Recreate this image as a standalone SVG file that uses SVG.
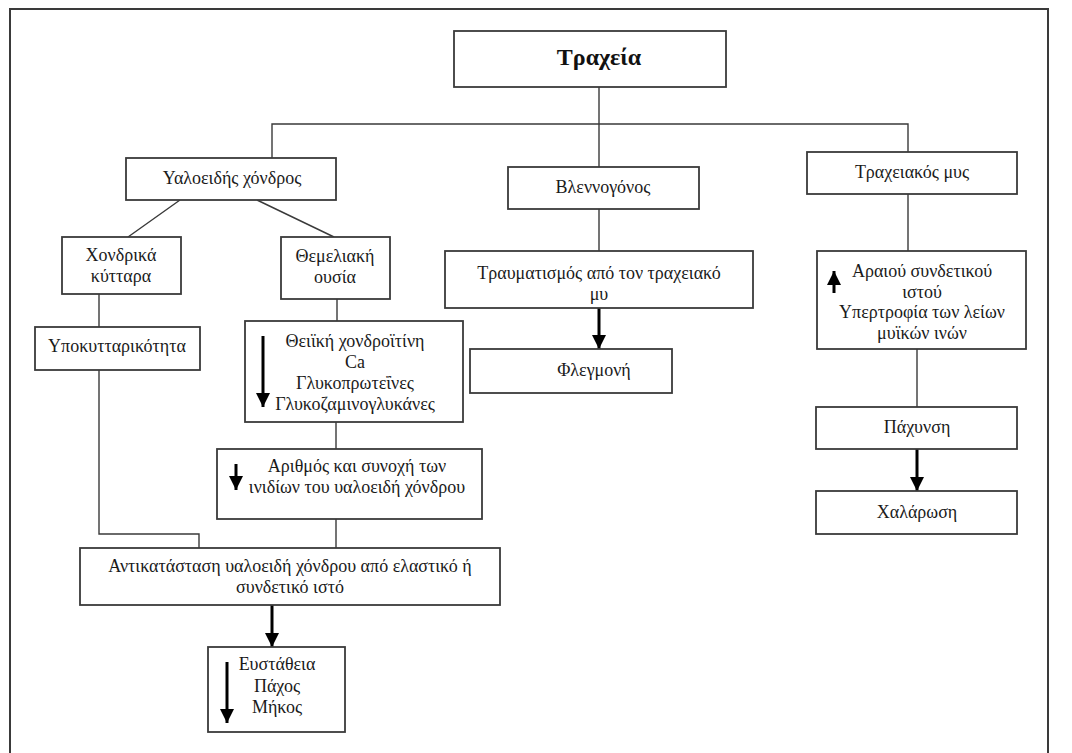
<svg xmlns="http://www.w3.org/2000/svg" width="1072" height="753" viewBox="0 0 1072 753">
<defs>
<style>
.b{fill:#fff;stroke:#3a3a3a;stroke-width:1.8}
.t{font-family:"Liberation Serif","Times New Roman","DejaVu Serif",serif;font-size:18px;fill:#1a1a1a;text-anchor:middle}
.h{font-family:"Liberation Serif","Times New Roman","DejaVu Serif",serif;font-size:24px;font-weight:bold;fill:#111;text-anchor:middle}
.l{fill:none;stroke:#3a3a3a;stroke-width:1.4}
.a{fill:none;stroke:#000;stroke-width:3}
</style>
<marker id="ah" viewBox="0 0 10 10" refX="10" refY="5" markerWidth="14" markerHeight="14" markerUnits="userSpaceOnUse" orient="auto"><path d="M0,0L10,5L0,10z" fill="#000"/></marker>
</defs>
<rect x="10" y="9" width="1038" height="760" fill="#fff" stroke="#3a3a3a" stroke-width="2"/>
<g id="connectors">
<path class="l" d="M599,87V167M272,158V124H908V152"/>
<path class="l" d="M180,200L128,237M257,200L334,237"/>
<path class="l" d="M99,294V327M337,299V321M336,422V449M336,519V548"/>
<path class="l" d="M99,370V534H199V548"/>
<path class="l" d="M599,209V251M908,194V251M917,349V407"/>
<line class="a" x1="599" y1="308" x2="599" y2="349" marker-end="url(#ah)"/>
<line class="a" x1="272" y1="605" x2="272" y2="647" marker-end="url(#ah)"/>
<line class="a" x1="917" y1="449" x2="917" y2="491" marker-end="url(#ah)"/>
</g>
<g id="n-trachea"><rect class="b" x="454" y="31" width="272" height="56"/><text class="h" x="599" y="65">Τραχεία</text></g>
<g id="n-yalo"><rect class="b" x="126" y="158" width="210" height="42"/><text class="t" x="232" y="184">Υαλοειδής χόνδρος</text></g>
<g id="n-vlenn"><rect class="b" x="508" y="167" width="191" height="42"/><text class="t" x="603" y="193">Βλεννογόνος</text></g>
<g id="n-mys"><rect class="b" x="807" y="152" width="210" height="42"/><text class="t" x="912" y="178">Τραχειακός μυς</text></g>
<g id="n-chondr"><rect class="b" x="62" y="237" width="119" height="57"/><text class="t" x="121" y="261">Χονδρικά</text><text class="t" x="121" y="282">κύτταρα</text></g>
<g id="n-them"><rect class="b" x="281" y="237" width="109" height="62"/><text class="t" x="335" y="262">Θεμελιακή</text><text class="t" x="335" y="283">ουσία</text></g>
<g id="n-ypok"><rect class="b" x="35" y="327" width="165" height="43"/><text class="t" x="117" y="352">Υποκυτταρικότητα</text></g>
<g id="n-theik"><rect class="b" x="245" y="321" width="218" height="101"/>
<text class="t" x="355" y="347">Θειϊκή χονδροϊτίνη</text><text class="t" x="355" y="368">Ca</text><text class="t" x="355" y="389">Γλυκοπρωτεΐνες</text><text class="t" x="355" y="410">Γλυκοζαμινογλυκάνες</text>
<line class="a" x1="263" y1="336" x2="263" y2="407" marker-end="url(#ah)"/></g>
<g id="n-arith"><rect class="b" x="217" y="449" width="265" height="70"/>
<text class="t" x="357" y="472">Αριθμός και συνοχή των</text><text class="t" x="357" y="493">ινιδίων του υαλοειδή χόνδρου</text>
<line class="a" x1="236" y1="464" x2="236" y2="490" marker-end="url(#ah)"/></g>
<g id="n-antik"><rect class="b" x="80" y="548" width="420" height="57"/>
<text class="t" x="290" y="572">Αντικατάσταση υαλοειδή χόνδρου από ελαστικό ή</text><text class="t" x="290" y="593">συνδετικό ιστό</text></g>
<g id="n-efst"><rect class="b" x="208" y="647" width="137" height="85"/>
<text class="t" x="277" y="670">Ευστάθεια</text><text class="t" x="277" y="692">Πάχος</text><text class="t" x="277" y="713">Μήκος</text>
<line class="a" x1="227" y1="662" x2="227" y2="723" marker-end="url(#ah)"/></g>
<g id="n-travm"><rect class="b" x="445" y="251" width="308" height="57"/>
<text class="t" x="599" y="279">Τραυματισμός από τον τραχειακό</text><text class="t" x="599" y="300">μυ</text></g>
<g id="n-flegm"><rect class="b" x="470" y="349" width="202" height="44"/><text class="t" x="594" y="376">Φλεγμονή</text></g>
<g id="n-araiou"><rect class="b" x="817" y="251" width="209" height="98"/>
<text class="t" x="922" y="277">Αραιού συνδετικού</text><text class="t" x="922" y="298">ιστού</text><text class="t" x="922" y="318">Υπερτροφία των λείων</text><text class="t" x="922" y="339">μυϊκών ινών</text>
<line class="a" x1="834" y1="293" x2="834" y2="271" marker-end="url(#ah)"/></g>
<g id="n-pachyn"><rect class="b" x="816" y="407" width="201" height="42"/><text class="t" x="917" y="433">Πάχυνση</text></g>
<g id="n-chalar"><rect class="b" x="816" y="491" width="201" height="43"/><text class="t" x="917" y="518">Χαλάρωση</text></g>
</svg>
